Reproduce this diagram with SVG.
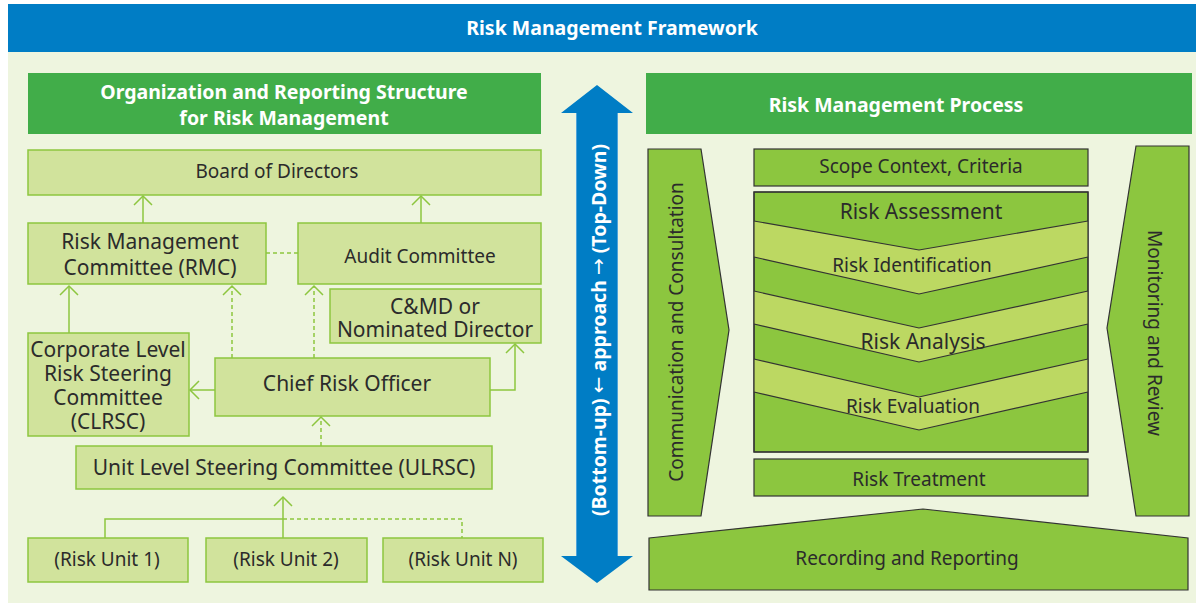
<svg xmlns="http://www.w3.org/2000/svg" width="1202" height="605" viewBox="0 0 1202 605">
<style>
.t{font-family:"Noto Sans","Open Sans",sans-serif;font-size:19px;fill:#2b2b2b;text-anchor:middle;dominant-baseline:central}
.l{font-size:21px}
.w{font-family:"Noto Sans","Open Sans",sans-serif;font-size:19.5px;font-weight:bold;fill:#ffffff;text-anchor:middle;dominant-baseline:central}
.box{fill:#D1E39C;stroke:#8DC63F;stroke-width:1.5}
.pbox{fill:#8CC63F;stroke:#333333;stroke-width:1.2}
.light{fill:#BCD862}
.chev{fill:none;stroke:#333333;stroke-width:1.2}
.c{fill:none;stroke:#8DC63F;stroke-width:1.5}
.d{stroke-dasharray:4 3}
</style>
<defs>
<marker id="ah" markerUnits="userSpaceOnUse" viewBox="0 0 20 20" markerWidth="20" markerHeight="20" refX="10" refY="10" orient="auto">
<path d="M1,1 L10,10 L1,19" fill="none" stroke="#8DC63F" stroke-width="1.5"/>
</marker>
</defs>
<rect x="0" y="0" width="1202" height="605" fill="#ffffff"/>
<rect x="8" y="52" width="1188" height="551" fill="#EEF5DF"/>
<g id="title">
<rect x="8" y="4" width="1188" height="48" fill="#007DC5"/>
<text class="w" x="612" y="27">Risk Management Framework</text>
</g>
<g id="left-header">
<rect x="28" y="73" width="513" height="61" fill="#41AD49"/>
<text class="w" x="284" y="91">Organization and Reporting Structure<tspan x="284" dy="26">for Risk Management</tspan></text>
</g>
<g id="board"><rect class="box" x="28" y="150" width="513" height="45"/><text class="t" x="277" y="171">Board of Directors</text></g>
<g id="rmc"><rect class="box" x="28" y="223" width="238" height="61"/><text class="t l" x="150" y="241">Risk Management<tspan x="150" dy="26">Committee (RMC)</tspan></text></g>
<g id="audit"><rect class="box" x="298" y="223" width="243" height="61"/><text class="t" x="420" y="256">Audit Committee</text></g>
<g id="cmd"><rect class="box" x="330" y="289" width="211" height="54"/><text class="t l" x="435" y="306">C&amp;MD or<tspan x="435" dy="23">Nominated Director</tspan></text></g>
<g id="clrsc"><rect class="box" x="28" y="333" width="161" height="103"/><text class="t l" x="108" y="349">Corporate Level<tspan x="108" dy="24">Risk Steering</tspan><tspan x="108" dy="24">Committee</tspan><tspan x="108" dy="24">(CLRSC)</tspan></text></g>
<g id="cro"><rect class="box" x="215" y="358" width="275" height="58"/><text class="t l" x="347" y="383">Chief Risk Officer</text></g>
<g id="ulrsc"><rect class="box" x="76" y="446" width="416" height="43"/><text class="t l" x="284" y="467">Unit Level Steering Committee (ULRSC)</text></g>
<g id="unit1"><rect class="box" x="28" y="538" width="160" height="44"/><text class="t" x="107" y="559">(Risk Unit 1)</text></g>
<g id="unit2"><rect class="box" x="206" y="538" width="161" height="44"/><text class="t" x="286" y="559">(Risk Unit 2)</text></g>
<g id="unitN"><rect class="box" x="383" y="538" width="160" height="44"/><text class="t" x="463" y="559">(Risk Unit N)</text></g>
<g id="connectors">
<path class="c" d="M143,223 L143,196" marker-end="url(#ah)"/>
<path class="c" d="M421,223 L421,196" marker-end="url(#ah)"/>
<path class="c d" d="M266,253 L298,253"/>
<path class="c" d="M69,333 L69,286" marker-end="url(#ah)"/>
<path class="c d" d="M232,358 L232,286" marker-end="url(#ah)"/>
<path class="c d" d="M314,358 L314,286" marker-end="url(#ah)"/>
<path class="c" d="M215,390 L190,390" marker-end="url(#ah)"/>
<path class="c" d="M490,390 L515,390 L515,344" marker-end="url(#ah)"/>
<path class="c d" d="M321,446 L321,417" marker-end="url(#ah)"/>
<path class="c" d="M105,538 L105,519 L283,519"/>
<path class="c" d="M283,538 L283,497" marker-end="url(#ah)"/>
<path class="c d" d="M283,519 L462,519 L462,538"/>
</g>
<g id="approach-arrow">
<polygon points="597,85 633,113 618,113 618,556 633,556 597,583 561,556 576,556 576,113 561,113" fill="#007DC5"/>
<line x1="576.5" y1="113" x2="576.5" y2="556" stroke="#4FA3DA" stroke-width="1"/>
<line x1="617.5" y1="113" x2="617.5" y2="556" stroke="#4FA3DA" stroke-width="1"/>
<text class="w" x="0" y="0" font-size="19" transform="translate(598,330) rotate(-90)">(Bottom-up) <tspan font-weight="normal" font-family="DejaVu Sans" font-size="20">←</tspan> approach <tspan font-weight="normal" font-family="DejaVu Sans" font-size="20">→</tspan> (Top-Down)</text>
</g>
<g id="right-header">
<rect x="646" y="73" width="546" height="61" fill="#41AD49"/>
<text class="w" x="896" y="104">Risk Management Process</text>
</g>
<g id="communication">
<polygon class="pbox" points="648,149 701,149 729,330 701,516 648,516"/>
<text class="t" x="0" y="0" font-size="21.5" transform="translate(676,332) rotate(-90)">Communication and Consultation</text>
</g>
<g id="monitoring">
<polygon class="pbox" points="1136,146 1189,146 1189,516 1136,516 1107,328"/>
<text class="t" x="0" y="0" transform="translate(1155,333) rotate(90)">Monitoring and Review</text>
</g>
<g id="recording">
<polygon class="pbox" points="649,538 923,509 1188,538 1188,590 649,590"/>
<text class="t" x="907" y="558">Recording and Reporting</text>
</g>
<g id="scope"><rect class="pbox" x="754" y="149" width="334" height="37"/><text class="t" x="921" y="166">Scope Context, Criteria</text></g>
<g id="assessment">
<rect class="pbox" x="754" y="192" width="334" height="260"/>
<polygon class="light" points="754,221 919,250 1088,221 1088,257 919,294 754,257"/>
<polygon class="light" points="754,291 919,328 1088,291 1088,324 919,362 754,324"/>
<polygon class="light" points="754,359 919,397 1088,359 1088,392 919,430 754,392"/>
<polyline class="chev" points="754,221 919,250 1088,221"/>
<polyline class="chev" points="754,257 919,294 1088,257"/>
<polyline class="chev" points="754,291 919,328 1088,291"/>
<polyline class="chev" points="754,324 919,362 1088,324"/>
<polyline class="chev" points="754,359 919,397 1088,359"/>
<polyline class="chev" points="754,392 919,430 1088,392"/>
<rect x="754" y="192" width="334" height="260" fill="none" stroke="#333333" stroke-width="1.2"/>
<text class="t l" x="921" y="211">Risk Assessment</text>
<text class="t" x="912" y="265">Risk Identification</text>
<text class="t l" x="923" y="341">Risk Analysis</text>
<text class="t" x="913" y="406">Risk Evaluation</text>
</g>
<g id="treatment"><rect class="pbox" x="754" y="459" width="334" height="37"/><text class="t" x="919" y="479">Risk Treatment</text></g>
</svg>
